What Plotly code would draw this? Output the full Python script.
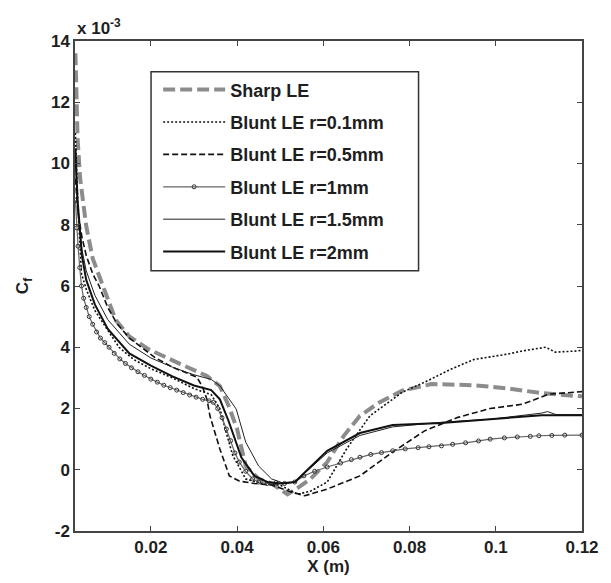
import plotly.graph_objects as go

# Cf values in units of 1e-3
sharp_x = [0.0025, 0.0027, 0.003, 0.0036, 0.005, 0.0065, 0.0084, 0.0099, 0.0118, 0.015, 0.0194, 0.0269, 0.033, 0.036, 0.038, 0.040, 0.042, 0.045, 0.048, 0.0517, 0.054, 0.057, 0.0609, 0.0647, 0.0685, 0.073, 0.0783, 0.0851, 0.0949, 0.1025, 0.1107, 0.1184, 0.12]
sharp_y = [13.6, 12.5, 10.8, 9.5, 7.96, 6.9, 6.2, 5.57, 4.9, 4.35, 3.94, 3.45, 3.06, 2.73, 2.1, 1.33, 0.12, -0.3, -0.45, -0.8, -0.6, -0.3, 0.25, 1.1, 1.76, 2.2, 2.58, 2.8, 2.76, 2.66, 2.5, 2.41, 2.4]

r01_x = [0.0025, 0.003, 0.0039, 0.005, 0.007, 0.0126, 0.016, 0.02, 0.025, 0.03, 0.034, 0.036, 0.0375, 0.039, 0.042, 0.046, 0.050, 0.054, 0.057, 0.0609, 0.0654, 0.0708, 0.0783, 0.0835, 0.0897, 0.0949, 0.1025, 0.1062, 0.1116, 0.1138, 0.119, 0.12]
r01_y = [11.0, 8.8, 6.4, 5.9, 5.2, 4.0, 3.6, 3.3, 3.0, 2.65, 2.45, 2.0, 1.2, 0.46, -0.3, -0.45, -0.5, -0.8, -0.7, -0.4, 0.68, 1.76, 2.53, 2.86, 3.29, 3.6, 3.77, 3.88, 4.0, 3.84, 3.88, 3.9]

r05_x = [0.0025, 0.003, 0.004, 0.005, 0.0065, 0.008, 0.010, 0.012, 0.015, 0.0178, 0.0209, 0.025, 0.0307, 0.032, 0.033, 0.0337, 0.036, 0.0382, 0.0405, 0.044, 0.048, 0.052, 0.0557, 0.0609, 0.0685, 0.0761, 0.0835, 0.0912, 0.0987, 0.1062, 0.1123, 0.12]
r05_y = [9.5, 8.5, 7.6, 7.0, 6.4, 6.0, 5.3, 4.8, 4.3, 4.0, 3.67, 3.35, 3.02, 2.7, 2.3, 1.76, 0.68, -0.2, -0.37, -0.45, -0.5, -0.7, -0.85, -0.63, -0.2, 0.58, 1.27, 1.71, 2.0, 2.14, 2.47, 2.55]

r1_x = [0.0025, 0.0028, 0.0031, 0.0035, 0.0039, 0.0044, 0.005, 0.0057, 0.0065, 0.0074, 0.0083, 0.0093, 0.0103, 0.0115, 0.0128, 0.0141, 0.0155, 0.017, 0.0185, 0.02, 0.0215, 0.023, 0.0245, 0.026, 0.0275, 0.029, 0.0305, 0.032, 0.0335, 0.0345, 0.0355, 0.0365, 0.0375, 0.0385, 0.0395, 0.0405, 0.042, 0.0436, 0.045, 0.047, 0.049, 0.051, 0.0534, 0.0555, 0.058, 0.0609, 0.064, 0.0665, 0.0685, 0.071, 0.0735, 0.0761, 0.079, 0.082, 0.0845, 0.0874, 0.090, 0.093, 0.096, 0.0987, 0.102, 0.105, 0.108, 0.11, 0.113, 0.116, 0.12]
r1_y = [8.8, 7.9, 7.3, 6.6, 6.0, 5.6, 5.3, 5.0, 4.75, 4.5, 4.3, 4.15, 4.0, 3.8, 3.62, 3.47, 3.33, 3.2, 3.08, 2.96, 2.86, 2.76, 2.68, 2.6, 2.52, 2.44, 2.37, 2.3, 2.25, 2.2, 2.0, 1.7, 1.33, 0.95, 0.55, 0.25, -0.05, -0.3, -0.4, -0.45, -0.42, -0.45, -0.4, -0.2, -0.05, 0.09, 0.22, 0.33, 0.41, 0.5, 0.56, 0.62, 0.68, 0.72, 0.75, 0.78, 0.83, 0.88, 0.94, 1.0, 1.04, 1.07, 1.09, 1.11, 1.12, 1.13, 1.13]

r15_x = [0.0025, 0.003, 0.004, 0.005, 0.007, 0.010, 0.015, 0.02, 0.025, 0.03, 0.034, 0.036, 0.0398, 0.042, 0.045, 0.048, 0.051, 0.0534, 0.0609, 0.0685, 0.0761, 0.0874, 0.0987, 0.1107, 0.112, 0.114, 0.12]
r15_y = [10.0, 8.5, 7.2, 6.5, 5.7, 4.9, 4.1, 3.65, 3.35, 3.1, 2.95, 2.74, 1.98, 0.9, 0.12, -0.3, -0.45, -0.4, 0.55, 1.12, 1.4, 1.55, 1.65, 1.85, 1.9, 1.8, 1.8]

r2_x = [0.0025, 0.003, 0.004, 0.005, 0.007, 0.010, 0.015, 0.02, 0.025, 0.03, 0.034, 0.036, 0.038, 0.041, 0.044, 0.047, 0.050, 0.0534, 0.0609, 0.0685, 0.0761, 0.0874, 0.0987, 0.1107, 0.12]
r2_y = [10.5, 8.8, 7.0, 6.2, 5.4, 4.6, 3.8, 3.4, 3.05, 2.75, 2.6, 2.3, 1.6, 0.4, -0.2, -0.4, -0.45, -0.4, 0.62, 1.2, 1.46, 1.53, 1.65, 1.78, 1.78]

x_ticks = [0.02, 0.04, 0.06, 0.08, 0.1, 0.12]
x_tick_text = ["0.02", "0.04", "0.06", "0.08", "0.1", "0.12"]
y_ticks = [-2, 0, 2, 4, 6, 8, 10, 12, 14]

FONT = "Liberation Sans"
TXT = "#1e1e1e"

fig = go.Figure()
fig.add_trace(go.Scatter(x=sharp_x, y=sharp_y, mode="lines", name="<b>Sharp LE</b>", legendgroup="a",
                         line=dict(color="#8c8c8c", width=4, dash="12px,5px")))
fig.add_trace(go.Scatter(x=r01_x, y=r01_y, mode="lines", name="<b>Blunt LE r=0.1mm</b>", legendgroup="b",
                         line=dict(color="#111111", width=1.6, dash="2px,2px")))
fig.add_trace(go.Scatter(x=r05_x, y=r05_y, mode="lines", name="<b>Blunt LE r=0.5mm</b>", legendgroup="c",
                         line=dict(color="#111111", width=1.6, dash="6px,3px")))
fig.add_trace(go.Scatter(x=r1_x, y=r1_y, mode="lines+markers", name="<b>Blunt LE r=1mm</b>", legendgroup="d",
                         line=dict(color="#666666", width=1.2),
                         marker=dict(symbol="circle-open", size=4, color="#333333", line=dict(width=1))))
fig.add_trace(go.Scatter(x=r15_x, y=r15_y, mode="lines", name="<b>Blunt LE r=1.5mm</b>", legendgroup="e",
                         line=dict(color="#222222", width=1)))
fig.add_trace(go.Scatter(x=r2_x, y=r2_y, mode="lines", name="<b>Blunt LE r=2mm</b>", legendgroup="f",
                         line=dict(color="#111111", width=2)))

axis_common = dict(showgrid=False, zeroline=False, showline=True, linecolor="#444444", linewidth=1.5,
                   mirror="ticks", ticks="inside", ticklen=5, tickcolor="#444444", tickwidth=1.2,
                   tickfont=dict(family=FONT, size=17, color=TXT))

fig.update_layout(
    width=611, height=583,
    margin=dict(l=75, r=18, t=41, b=52),
    paper_bgcolor="white", plot_bgcolor="white",
    font=dict(family=FONT, color=TXT),
    xaxis=dict(range=[0.0024, 0.12], tickvals=x_ticks, ticktext=[f"<b>{t}</b>" for t in x_tick_text],
               title=dict(text="<b>X (m)</b>", font=dict(family=FONT, size=17), standoff=2), **axis_common),
    yaxis=dict(range=[-2, 14], tickvals=y_ticks, ticktext=[f"<b>{t}</b>" for t in y_ticks],
               title=dict(text="<b>C<sub>f</sub></b>", font=dict(family=FONT, size=17), standoff=18), **axis_common),
    legend=dict(x=0.164, y=0.938, xanchor="left", yanchor="top", bgcolor="rgba(0,0,0,0)",
                borderwidth=0, itemwidth=62, tracegroupgap=6,
                font=dict(family=FONT, size=18, color=TXT)),
    shapes=[dict(type="rect", xref="paper", yref="paper", x0=0.150, x1=0.6776, y0=0.531, y1=0.9373,
                 line=dict(color="#333333", width=1.5), fillcolor="white", layer="above")],
    annotations=[dict(text="<b>x 10<sup>-3</sup></b>", xref="paper", yref="paper", x=0, y=1,
                      xanchor="left", yanchor="bottom", showarrow=False, yshift=1,
                      font=dict(family=FONT, size=17, color=TXT))],
)

fig.write_html("out.html")
